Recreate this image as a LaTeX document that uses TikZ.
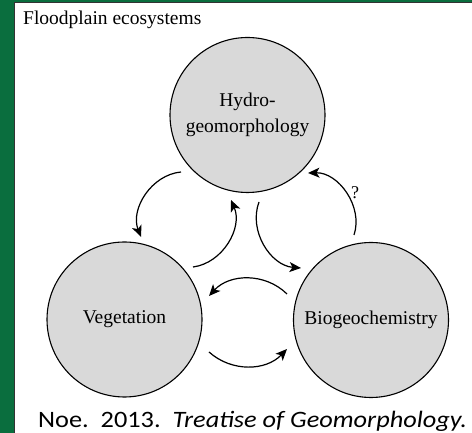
\documentclass[tikz,border=0pt]{standalone}
\usepackage{fontspec}
\setmainfont{Liberation Serif}
\newfontfamily\citefont{Carlito}
\usetikzlibrary{arrows.meta}
\definecolor{bggreen}{RGB}{10,110,62}
\definecolor{circgray}{RGB}{217,217,217}
\tikzset{
  circ/.style={circle, draw=black, line width=1.1pt, fill=circgray, minimum size=155pt, inner sep=0pt, align=center, font=\fontsize{19.5}{26}\selectfont},
  link/.style={line width=1.2pt, -{Stealth[length=11.5pt,width=10pt,inset=3pt]}},
}
\begin{document}
\begin{tikzpicture}[x=1pt,y=1pt]
\useasboundingbox (0,0) rectangle (472,433);
\fill[bggreen] (0,0) rectangle (472,433);
\draw[fill=white, draw=black!80, line width=0.8pt] (14.4,-2) rectangle (474,430.4);
\node[anchor=base west, font=\fontsize{19.5}{23}\selectfont, inner sep=0pt] (title) at (23,408) {Floodplain ecosystems};
\node[circ] (H) at (247.5,318) {Hydro-\\geomorphology};
\node[circ] (V) at (124.5,113.5) {Vegetation};
\node[circ] (B) at (371,113) {Biogeochemistry};
\coordinate (a1) at (181,261); \coordinate (b1) at (141,196);
\coordinate (a2) at (193,166); \coordinate (b2) at (231,233);
\coordinate (a3) at (259,231); \coordinate (b3) at (301,165);
\coordinate (a4) at (354,198); \coordinate (b4) at (308,260);
\coordinate (a5) at (287,139); \coordinate (b5) at (209,137);
\coordinate (a6) at (209,81);  \coordinate (b6) at (287,84);
\draw[link] (a1) to[bend right=53] (b1);
\draw[link] (a2) to[bend right=53] (b2);
\draw[link] (a3) to[bend right=53] (b3);
\draw[link] (a4) to[bend right=55] (b4);
\draw[link] (a5) to[bend right=46] (b5);
\draw[link] (a6) to[bend right=44] (b6);
\node[font=\fontsize{18}{20}\selectfont] (q) at (355,240) {?};
\node[anchor=base west, font=\citefont\fontsize{23.5}{26}\selectfont, inner sep=0pt] (cite) at (38,5) {\scalebox{1.12}[1]{Noe.\ \ 2013.\ \ \textit{Treatise of Geomorphology.}}};
\end{tikzpicture}
\end{document}
